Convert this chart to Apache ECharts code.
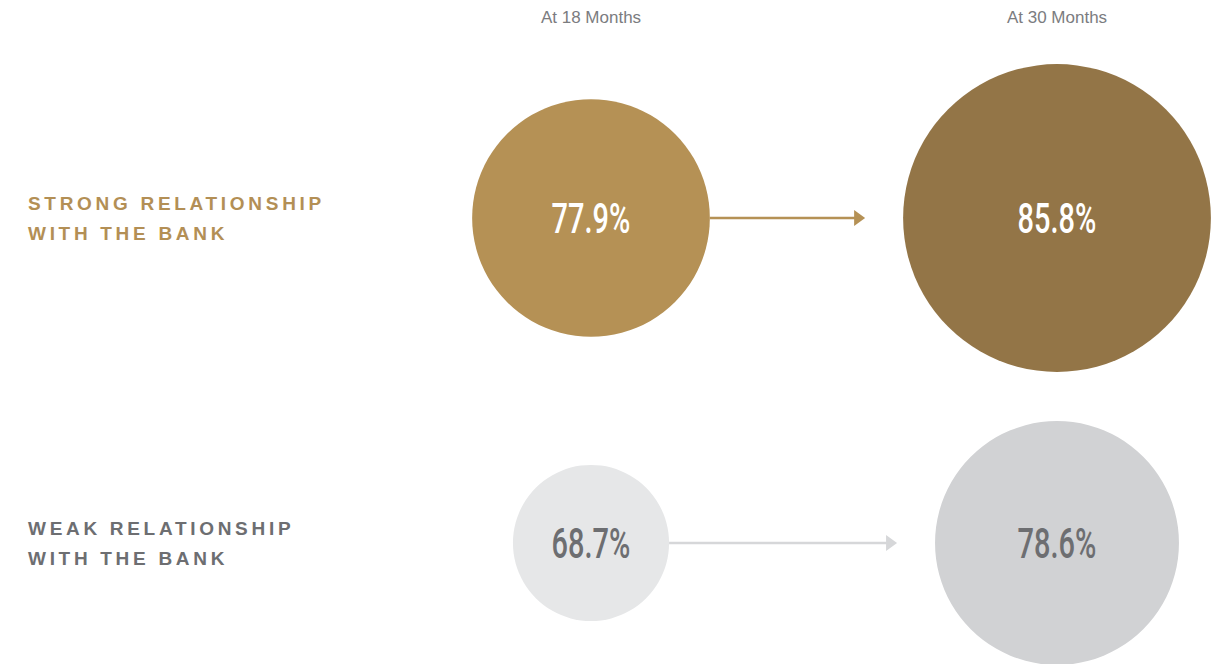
<!DOCTYPE html>
<html>
<head>
<meta charset="utf-8">
<script src="https://cdn.jsdelivr.net/npm/echarts@6/dist/echarts.min.js"></script>
<style>
html,body{margin:0;padding:0;background:#fff;}
#chart{width:1215px;height:664px;}
</style>
</head>
<body>
<div id="chart"></div>
<script>
// ---- data ----
const columns = ['At 18 Months', 'At 30 Months'];
const rows = ['STRONG RELATIONSHIP\nWITH THE BANK', 'WEAK RELATIONSHIP\nWITH THE BANK'];
const strongValues = [77.9, 85.8];
const weakValues = [68.7, 78.6];

// ---- style ----
const circleColors = [['#B59155', '#937547'], ['#E6E7E8', '#D1D2D4']];
const valueTextColors = ['#FFFFFF', '#6D6E71'];
const rowLabelColors = ['#B38F55', '#6D6E71'];
const arrowColors = ['#B59155', '#D6D7D9'];
function sizeOf(v) { return (v - 51.1) * 8.87; }
const ARROW_GAP = 38, HEAD_LEN = 11, HEAD_HALF = 8;

const allValues = [strongValues, weakValues];
const circleData = [];
allValues.forEach((vals, r) => vals.forEach((v, c) => {
  circleData.push({ value: [c, r, v], itemStyle: { color: circleColors[r][c], opacity: 1 } });
}));
const arrowData = allValues.map((vals, r) => [0, r, vals[0], vals[1]]);

const chart = echarts.init(document.getElementById('chart'), null, { renderer: 'svg' });
chart.setOption({
  animation: false,
  backgroundColor: '#fff',
  grid: { left: 591, right: 158, top: 218, bottom: 121, containLabel: false, outerBoundsMode: 'none' },
  xAxis: {
    type: 'category', data: columns, position: 'top', boundaryGap: false,
    axisLine: { show: false }, axisTick: { show: false }, splitLine: { show: false },
    axisLabel: { interval: 0, margin: 201, verticalAlign: 'middle', color: '#7B7C7F',
      fontFamily: 'Liberation Sans, Arial, sans-serif', fontSize: 17 }
  },
  yAxis: {
    type: 'category', data: rows, inverse: true, boundaryGap: false,
    axisLine: { show: false }, axisTick: { show: false }, splitLine: { show: false },
    axisLabel: {
      interval: 0, margin: 563, align: 'left', verticalAlign: 'middle', lineHeight: 30,
      fontFamily: 'Liberation Sans, Arial, sans-serif', fontSize: 19, fontWeight: 'bold',
      color: function (val, idx) { return rowLabelColors[idx]; }
    }
  },
  series: [
    {
      type: 'custom', coordinateSystem: 'cartesian2d', encode: { x: 0, y: 1 }, z: 1,
      data: arrowData,
      renderItem: function (params, api) {
        const row = api.value(1);
        const a = api.coord([0, row]);
        const b = api.coord([1, row]);
        const x1 = a[0] + sizeOf(api.value(2)) / 2;
        const x2 = b[0] - sizeOf(api.value(3)) / 2 - ARROW_GAP;
        const y = a[1];
        const color = arrowColors[row];
        return {
          type: 'group', children: [
            { type: 'line', shape: { x1: x1, y1: y, x2: x2 - HEAD_LEN + 1, y2: y }, style: { stroke: color, lineWidth: 2.5 } },
            { type: 'polygon', shape: { points: [[x2 - HEAD_LEN, y - HEAD_HALF], [x2, y], [x2 - HEAD_LEN, y + HEAD_HALF]] }, style: { fill: color } }
          ]
        };
      }
    },
    {
      type: 'scatter', z: 2, symbol: 'circle',
      symbolSize: function (val) { return sizeOf(val[2]); },
      itemStyle: { opacity: 1 },
      data: circleData,
      silent: true
    },
    {
      type: 'custom', coordinateSystem: 'cartesian2d', encode: { x: 0, y: 1 }, z: 3,
      data: circleData.map(d => d.value),
      renderItem: function (params, api) {
        const c = api.value(0), r = api.value(1), v = api.value(2);
        const p = api.coord([c, r]);
        return {
          type: 'text', x: p[0], y: p[1] + 1, scaleX: 0.69, scaleY: 1,
          style: {
            text: v.toFixed(1) + '%', fill: valueTextColors[r],
            font: '500 42px Roboto, "Liberation Sans", Arial, sans-serif',
            align: 'center', verticalAlign: 'middle'
          }
        };
      }
    }
  ]
});

const rowLines = [];
rows.forEach(r => r.split('\n').forEach(l => rowLines.push(l)));
function applySpacing() {
  document.querySelectorAll('#chart text').forEach(t => {
    const s = t.textContent.trim();
    if (rowLines.indexOf(s) >= 0) t.style.letterSpacing = '3.7px';
  });
}
chart.on('finished', applySpacing);
applySpacing();
setTimeout(applySpacing, 50);
</script>
</body>
</html>
